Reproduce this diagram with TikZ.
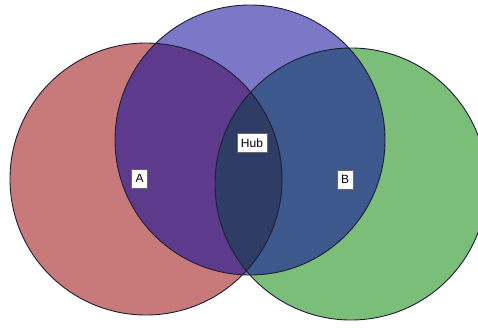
\documentclass[tikz,border=0pt]{standalone}
\usepackage{fontspec}
\setmainfont{Liberation Sans}
\definecolor{cred}{RGB}{200,122,122}
\definecolor{cblue}{RGB}{124,120,200}
\definecolor{cgreen}{RGB}{122,190,122}
\definecolor{crb}{RGB}{94,58,140}
\definecolor{cbg}{RGB}{60,88,140}
\definecolor{crg}{RGB}{90,100,90}
\definecolor{crbg}{RGB}{46,60,102}
\definecolor{cline}{RGB}{30,28,50}
\begin{document}
\begin{tikzpicture}[x=1pt,y=-1pt,
  lab/.style={fill=white,draw=black!60,line width=0.4pt,inner xsep=4pt,inner ysep=0pt,minimum height=19pt,font=\fontsize{12}{13}\selectfont},
  ring/.style={draw=cline,line width=0.9pt}]
\useasboundingbox (0,0) rectangle (478,327);
\def\R{(146,179) circle[radius=136]}
\def\B{(250,140) circle[radius=135]}
\def\G{(351,184) circle[radius=136]}
\fill[cred] \R;
\fill[cblue] \B;
\fill[cgreen] \G;
\begin{scope}\clip \R; \fill[crb] \B; \end{scope}
\begin{scope}\clip \B; \fill[cbg] \G; \end{scope}
\begin{scope}\clip \R; \fill[crg] \G; \end{scope}
\begin{scope}\clip \R; \clip \B; \fill[crbg] \G; \end{scope}
\draw[ring] \R;
\draw[ring] \B;
\draw[ring] \G;
\node[lab] (a) at (139.5,178.5) {A};
\node[lab] (b) at (345,179.5) {B};
\node[lab] (hub) at (252,143) {Hub};
\end{tikzpicture}
\end{document}
